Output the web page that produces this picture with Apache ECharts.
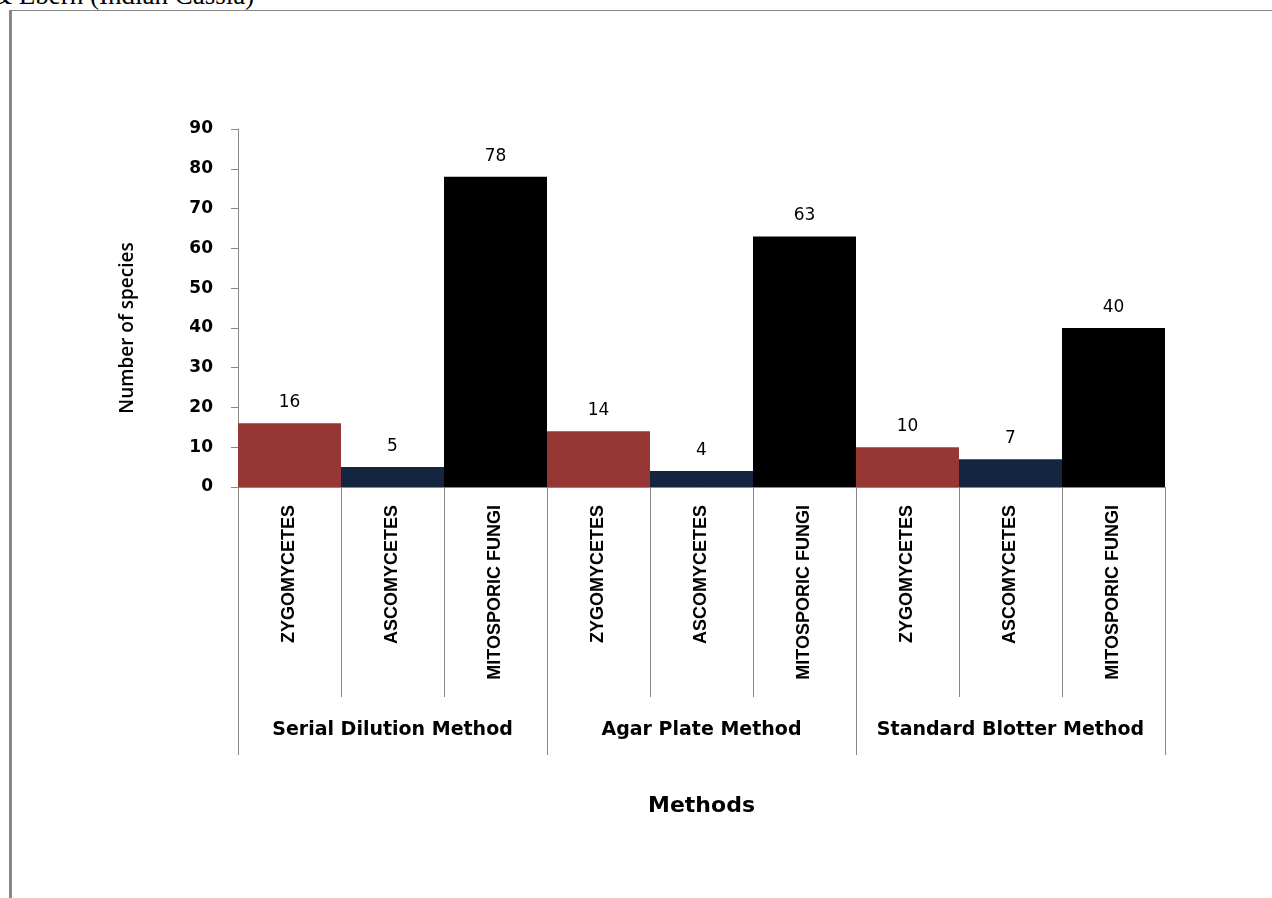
<!DOCTYPE html>
<html>
<head>
<meta charset="utf-8">
<script src="https://cdn.jsdelivr.net/npm/echarts@6/dist/echarts.min.js"></script>
<style>
  html, body { margin: 0; padding: 0; background: #fff; overflow: hidden; }
  #caption {
    position: absolute; left: -9px; top: -20px;
    font-family: "Liberation Serif", serif; font-size: 27px; color: #000;
    white-space: nowrap;
  }
  #frame {
    position: absolute; left: 9px; top: 10px; right: 0; bottom: 0;
    border-top: 1px solid #888; border-left: 3px solid #888;
  }
  #chart { position: absolute; left: 0; top: 0; width: 1272px; height: 898px; }
</style>
</head>
<body>
<div id="caption">&amp; Eberh (Indian Cassia)</div>
<div id="frame"></div>
<div id="chart"></div>
<script>
// fungal groups shown under each method
const fungalGroups = ['ZYGOMYCETES', 'ASCOMYCETES', 'MITOSPORIC FUNGI'];
const methods = ['Serial Dilution Method', 'Agar Plate Method', 'Standard Blotter Method'];
// number of species per method
const zygomycetes = [16, 14, 10];
const ascomycetes = [5, 4, 7];
const mitosporic = [78, 63, 40];
const groupColors = ['#953735', '#14253f', '#000000'];

const barCategories = [];
const barData = [];
methods.forEach((m, i) => {
  [zygomycetes, ascomycetes, mitosporic].forEach((arr, j) => {
    barCategories.push(fungalGroups[j]);
    barData.push({ value: arr[i], itemStyle: { color: groupColors[j] } });
  });
});

const chart = echarts.init(document.getElementById('chart'));
const option = {
  animation: false,
  backgroundColor: 'transparent',
  grid: { left: 238, right: 107, top: 129, bottom: 411, containLabel: false },
  xAxis: [
    {
      type: 'category',
      data: barCategories,
      position: 'bottom',
      axisLine: { show: true, lineStyle: { color: '#888', width: 1 } },
      axisTick: { show: true, interval: 0, length: 210, lineStyle: { color: '#888', width: 1 } },
      axisLabel: {
        interval: 0, rotate: 90, margin: 18,
        fontFamily: '"Liberation Sans", sans-serif',
        fontWeight: 'bold', fontSize: 18, color: '#000'
      }
    },
    {
      type: 'category',
      data: methods,
      position: 'bottom',
      axisLine: { show: false },
      axisTick: { show: true, interval: 0, length: 268, lineStyle: { color: '#888', width: 1 } },
      axisLabel: {
        interval: 0, margin: 234,
        fontFamily: '"DejaVu Sans", sans-serif',
        fontWeight: 'bold', fontSize: 19, color: '#000'
      },
      name: 'Methods',
      nameLocation: 'middle',
      nameGap: 308,
      nameTextStyle: {
        fontFamily: '"DejaVu Sans", sans-serif',
        fontWeight: 'bold', fontSize: 22, color: '#000'
      }
    }
  ],
  yAxis: {
    type: 'value',
    min: 0, max: 90, interval: 10,
    axisLine: { show: true, lineStyle: { color: '#888' } },
    axisTick: { show: true, length: 7, lineStyle: { color: '#888' } },
    splitLine: { show: false },
    axisLabel: {
      margin: 25,
      fontFamily: '"DejaVu Sans", sans-serif',
      fontWeight: 'bold', fontSize: 17, color: '#000'
    },
    name: 'Number of species',
    nameLocation: 'middle',
    nameRotate: 90,
    nameGap: 101,
    nameTextStyle: {
      fontFamily: '"Open Sans", sans-serif',
      fontWeight: 600, fontSize: 19, color: '#000',
      padding: [0, 40, 0, 0]
    }
  },
  series: [
    {
      type: 'bar',
      xAxisIndex: 0,
      barWidth: '100%',
      data: barData,
      label: {
        show: true, position: 'top', distance: 12,
        fontFamily: '"DejaVu Sans", sans-serif',
        fontSize: 17, color: '#000'
      }
    }
  ]
};
chart.setOption(option);
</script>
</body>
</html>
